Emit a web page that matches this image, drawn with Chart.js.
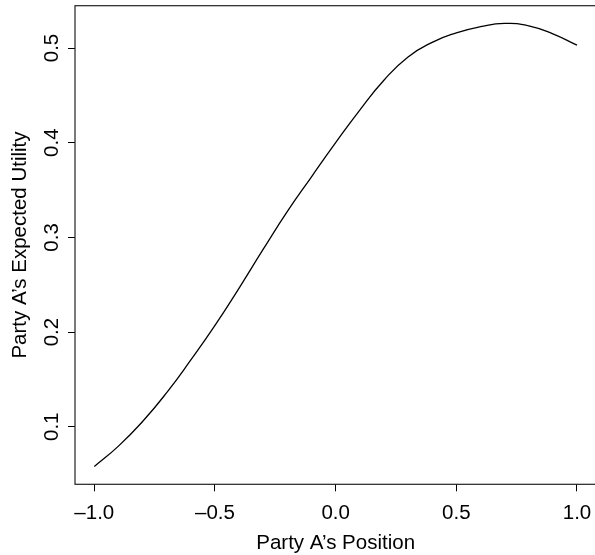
<!DOCTYPE html>
<html>
<head>
<meta charset="utf-8">
<script src="https://cdn.jsdelivr.net/npm/chart.js@4"></script>
<style>
  html, body { margin: 0; padding: 0; background: #fff; overflow: hidden; }
  canvas { display: block; }
</style>
</head>
<body>
<canvas id="chart" width="600" height="555"></canvas>
<script>
// values
const positions = [-1.0, -0.9, -0.8, -0.7, -0.6, -0.5, -0.4, -0.3, -0.2, -0.1, 0.0,
                   0.1, 0.2, 0.3, 0.4, 0.5, 0.6, 0.7, 0.8, 0.9, 1.0];
const utilities = [0.058, 0.0795, 0.1055, 0.136, 0.1705, 0.207, 0.2465, 0.2875, 0.3275, 0.364, 0.400,
                   0.4345, 0.466, 0.4905, 0.506, 0.516, 0.5225, 0.526, 0.5235, 0.515, 0.503];
const xTicks = [-1.0, -0.5, 0.0, 0.5, 1.0];
const yTicks = [0.1, 0.2, 0.3, 0.4, 0.5];

const fontFamily = '"Liberation Sans", Arial, Helvetica, sans-serif';
const ink = '#000';

// R style frame around the plot region
const framePlugin = {
    id: 'frame',
    afterDraw(chart) {
        const a = chart.chartArea;
        const ctx = chart.ctx;
        ctx.save();
        ctx.strokeStyle = '#222';
        ctx.lineWidth = 1.2;
        ctx.strokeRect(a.left, a.top, a.right - a.left, a.bottom - a.top);
        ctx.restore();
    }
};

const fmt = v => {
    const s = Math.abs(v).toFixed(1);
    return v < 0 ? '\u2013' + s : s;
};

new Chart(document.getElementById('chart'), {
    type: 'scatter',
    data: {
        datasets: [{
            data: positions.map((x, i) => ({ x: x, y: utilities[i] })),
            showLine: true,
            borderColor: ink,
            borderWidth: 1.3,
            pointRadius: 0,
            tension: 0.5,
            fill: false
        }]
    },
    options: {
        responsive: false,
        animation: false,
        layout: { padding: { top: 5.7, right: 3.7, left: 0, bottom: 0 } },
        plugins: { legend: { display: false }, tooltip: { enabled: false } },
        scales: {
            x: {
                type: 'linear',
                min: -1.08,
                max: 1.08,
                afterBuildTicks: s => { s.ticks = xTicks.map(v => ({ value: v })); },
                afterFit: s => {
                    s.height = 70.7;
                    s.paddingLeft = 0;
                    s.paddingRight = 0;
                },
                grid: { drawOnChartArea: false, drawTicks: true, tickLength: 7, color: ink, lineWidth: 1 },
                border: { display: false },
                ticks: {
                    color: ink,
                    padding: 10,
                    maxRotation: 0,
                    font: { family: fontFamily, size: 20.5 },
                    callback: v => fmt(v)
                },
                title: {
                    display: true,
                    text: 'Party A\u2019s Position',
                    color: ink,
                    font: { family: fontFamily, size: 20.5 },
                    padding: { top: 0, bottom: -1 }
                }
            },
            y: {
                type: 'linear',
                min: 0.0392,
                max: 0.5447,
                afterBuildTicks: s => { s.ticks = yTicks.map(v => ({ value: v })); },
                afterFit: s => {
                    s.width = 75;
                    s.paddingTop = 0;
                    s.paddingBottom = 0;
                },
                grid: { drawOnChartArea: false, drawTicks: true, tickLength: 7, color: ink, lineWidth: 1 },
                border: { display: false },
                ticks: {
                    color: ink,
                    padding: 1,
                    minRotation: 90,
                    maxRotation: 90,
                    crossAlign: 'center',
                    font: { family: fontFamily, size: 20.5 },
                    callback: v => fmt(v)
                },
                title: {
                    display: true,
                    text: 'Party A\u2019s Expected Utility',
                    color: ink,
                    font: { family: fontFamily, size: 20.5 },
                    padding: { top: 8, bottom: 0 }
                }
            }
        }
    },
    plugins: [framePlugin]
});
</script>
</body>
</html>
